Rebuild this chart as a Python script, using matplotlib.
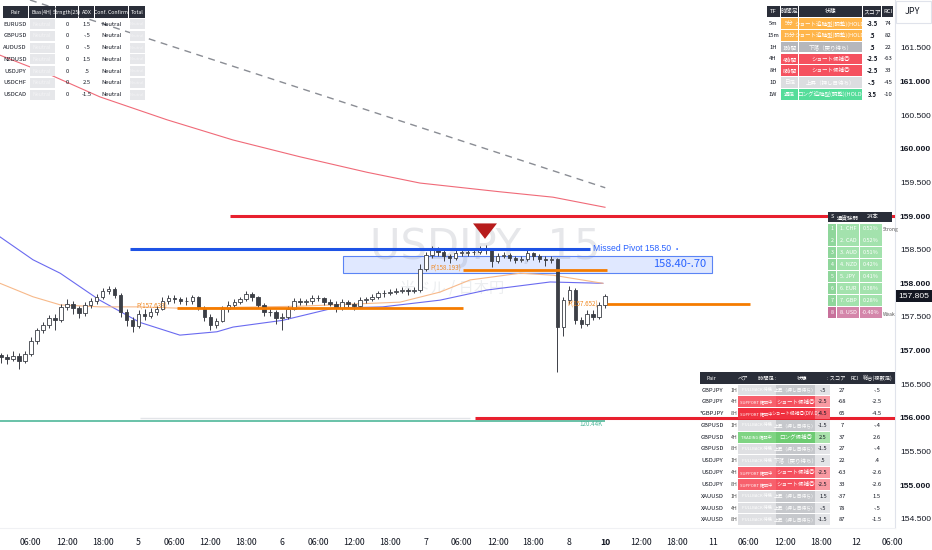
import numpy as np
import matplotlib
matplotlib.use("Agg")
import matplotlib.pyplot as plt
from matplotlib.patches import Rectangle, Polygon

plt.rcParams['font.family'] = ['Noto Sans CJK JP', 'DejaVu Sans']

# ---- price data (hourly candles) ----
first_open = 156.93
closes = [156.90, 156.88, 156.92, 156.85, 156.95, 157.15, 157.30, 157.38, 157.48, 157.45,
          157.65, 157.70, 157.64, 157.56, 157.68, 157.74, 157.80, 157.88, 157.92, 157.82,
          157.58, 157.45, 157.36, 157.55, 157.52, 157.58, 157.62, 157.74, 157.78, 157.76,
          157.74, 157.73, 157.79, 157.64, 157.50, 157.38, 157.44, 157.62, 157.68, 157.72,
          157.76, 157.84, 157.79, 157.68, 157.57, 157.58, 157.48, 157.50, 157.62, 157.74,
          157.72, 157.73, 157.78, 157.78, 157.72, 157.70, 157.63, 157.72, 157.69, 157.66,
          157.75, 157.76, 157.80, 157.85, 157.85, 157.87, 157.89, 157.90, 157.88, 157.90,
          158.22, 158.42, 158.50, 158.46, 158.40, 158.37, 158.45, 158.45, 158.46, 158.47,
          158.50, 158.50, 158.33, 158.40, 158.42, 158.38, 158.35, 158.36, 158.45, 158.40,
          158.36, 158.34, 158.36, 157.35, 157.75, 157.90, 157.45, 157.40, 157.55, 157.50,
          157.68, 157.805]
highs = [156.97, 156.95, 156.99, 156.96, 157.00, 157.20, 157.34, 157.42, 157.53, 157.55,
         157.69, 157.76, 157.73, 157.67, 157.72, 157.78, 157.84, 157.93, 157.96, 157.94,
         157.85, 157.62, 157.50, 157.60, 157.62, 157.63, 157.67, 157.80, 157.82, 157.82,
         157.80, 157.79, 157.83, 157.81, 157.67, 157.54, 157.49, 157.66, 157.73, 157.76,
         157.80, 157.88, 157.87, 157.81, 157.71, 157.64, 157.61, 157.56, 157.66, 157.78,
         157.78, 157.77, 157.82, 157.83, 157.80, 157.76, 157.73, 157.76, 157.75, 157.72,
         157.79, 157.80, 157.84, 157.89, 157.90, 157.91, 157.93, 157.95, 157.93, 157.95,
         158.28, 158.47, 158.56, 158.54, 158.49, 158.44, 158.49, 158.50, 158.51, 158.52,
         158.56, 158.57, 158.53, 158.45, 158.47, 158.45, 158.41, 158.41, 158.49, 158.47,
         158.43, 158.40, 158.41, 158.38, 157.80, 157.96, 157.93, 157.50, 157.60, 157.60,
         157.72, 157.84]
lows = [156.82, 156.80, 156.84, 156.72, 156.82, 156.92, 157.10, 157.26, 157.33, 157.30,
        157.42, 157.60, 157.55, 157.48, 157.52, 157.64, 157.70, 157.77, 157.84, 157.78,
        157.50, 157.36, 157.28, 157.33, 157.46, 157.48, 157.53, 157.60, 157.70, 157.71,
        157.69, 157.68, 157.70, 157.60, 157.44, 157.30, 157.34, 157.42, 157.58, 157.64,
        157.69, 157.73, 157.74, 157.64, 157.52, 157.52, 157.40, 157.30, 157.47, 157.60,
        157.68, 157.68, 157.70, 157.73, 157.68, 157.66, 157.58, 157.60, 157.65, 157.61,
        157.63, 157.71, 157.73, 157.77, 157.80, 157.82, 157.84, 157.85, 157.82, 157.85,
        157.87, 158.18, 158.38, 158.40, 158.33, 158.30, 158.34, 158.41, 158.41, 158.42,
        158.44, 158.44, 158.24, 158.30, 158.37, 158.33, 158.30, 158.31, 158.33, 158.35,
        158.31, 158.26, 158.30, 156.68, 157.22, 157.70, 157.40, 157.33, 157.36, 157.45,
        157.47, 157.64]

# moving averages / trend line knots (hour, price)
ma_blue_h = [0.84, 6.35, 10.9, 17.5, 24.2, 30.9, 37.1, 39.8, 48.1, 56.5, 64.8, 74.4, 82.2, 92.8, 101.6]
ma_blue_p = [158.69, 158.35, 158.15, 157.75, 157.42, 157.23, 157.28, 157.35, 157.45, 157.63, 157.65,
             157.75, 157.90, 158.02, 158.00]
ma_orange_h = [0.84, 6.35, 10.9, 17.5, 24.2, 30.9, 51.0, 67.7, 74.4, 79.4, 87.8, 93.3, 101.6]
ma_orange_p = [158.00, 157.80, 157.68, 157.65, 157.65, 157.63, 157.66, 157.72, 157.87, 158.05, 158.15,
               158.12, 158.00]
ma_red_h = [0.84, 9.19, 17.55, 28.75, 39.78, 50.98, 62.18, 71.03, 84.41, 93.26, 101.96]
ma_red_p = [161.39, 161.10, 160.77, 160.43, 160.13, 159.88, 159.65, 159.49, 159.36, 159.28, 159.13]
trend_h = [5.85, 102.0]
trend_p = [162.21, 159.42]

# time axis labels (every 6 hours)
time_labels = ["06:00", "12:00", "18:00", "5", "06:00", "12:00", "18:00", "6", "06:00", "12:00",
               "18:00", "7", "06:00", "12:00", "18:00", "8", "10", "12:00", "18:00", "11",
               "06:00", "12:00", "18:00", "12", "06:00"]

# top-left table
lt_header = ["Pair", "Bias(4H)", "Strngth(25)", "ADX", "Conf. Confirm", "Total"]
lt_pairs = ["EURUSD", "GBPUSD", "AUDUSD", "NZDUSD", "USDJPY", "USDCHF", "USDCAD"]
lt_strength = ["0", "0", "0", "0", "0", "0", "0"]
lt_adx = ["1.5", "-.5", "-.5", "1.5", ".5", "2.5", "-1.5"]
lt_confirm = ["Neutral", "Neutral", "Neutral", "Neutral", "Neutral", "Neutral", "Neutral"]

# top-right table
tr_header = ["TF", "時間足", "状態", "スコア", "RCI"]
tr_tf = ["5m", "15m", "1H", "4H", "8H", "1D", "1W"]
tr_jp = ["5分", "15分", "1時間", "4時間", "8時間", "日足", "週足"]
tr_state = ["ショート追随型(調整)(HOLD)", "ショート追随型(調整)(HOLD)", "下落（戻り待ち）",
            "ショート候補◎", "ショート候補◎", "上昇（押し目待ち）", "ロング追随型(調整)(HOLD)"]
tr_kind = ["orange", "orange", "gray", "red", "red", "light", "green"]
tr_score = ["-3.5", ".5", ".5", "-2.5", "-2.5", "-.5", "3.5"]
tr_rci = ["74", "82", "22", "-63", "33", "-45", "-10"]

# currency strength table
cs_ccy = ["CHF", "CAD", "AUD", "NZD", "JPY", "EUR", "GBP", "USD"]
cs_pct = ["0.52%", "0.52%", "0.51%", "0.42%", "0.41%", "0.38%", "0.28%", "-0.40%"]

# bottom-right table
br_header = ["Pair", "ペア", "時間足 :", "状態", ": スコア", "RCI", "総合(複数足)"]
br_pair = ["GBPJPY", "GBPJPY", "*GBPJPY", "GBPUSD", "GBPUSD", "GBPUSD",
           "USDJPY", "USDJPY", "USDJPY", "XAUUSD", "XAUUSD", "XAUUSD"]
br_tf = ["1H", "4H", "8H", "1H", "4H", "8H", "1H", "4H", "8H", "1H", "4H", "8H"]
br_state = ["上昇（押し目待ち）", "ショート候補◎", "ショート候補◎(DIV.D)", "上昇（押し目待ち）",
            "ロング候補◎", "上昇（押し目待ち）", "下落（戻り待ち）", "ショート候補◎", "ショート候補◎",
            "上昇（押し目待ち）", "上昇（押し目待ち）", "上昇（押し目待ち）"]
br_kind = ["gray", "red", "red2", "gray", "green", "gray", "gray", "red", "red", "gray", "gray", "gray"]
br_score = ["-.5", "-2.5", "-4.5", "-1.5", "2.5", "-1.5", ".5", "-2.5", "-2.5", "1.5", "-.5", "-1.5"]
br_rci = ["27", "-68", "65", "7", "37", "27", "22", "-63", "33", "-37", "78", "87"]
br_total = ["-.5", "-2.5", "-4.5", "-.4", "2.6", "-.4", ".4", "-2.6", "-2.6", "1.5", "-.5", "-1.5"]

# ---- figure ----
W, H = 932, 550
fig = plt.figure(figsize=(W / 100, H / 100), dpi=100)
fig.patch.set_facecolor('white')
ax = fig.add_axes([0, 22 / H, 895 / W, 528 / H])
ax.set_facecolor('none')
ax.set_xlim(0.84, 150.43)
ax.set_ylim(154.364, 162.21)

# watermark behind everything
fig.text(485 / W, 1 - 247 / H, "USDJPY, 15", fontsize=30, color='#e6e7ea', ha='center', va='center',
         zorder=-1, family='DejaVu Sans')
fig.text(452 / W, 1 - 288 / H, "米ドル / 日本円", fontsize=11, color='#eceef0', ha='center', va='center',
         zorder=-1)

# indicator lines
ax.plot(trend_h, trend_p, color='#8a8d94', lw=1, ls=(0, (5, 4)), zorder=2)
ax.plot(ma_red_h, ma_red_p, color='#f06a78', lw=0.8, zorder=2)
ax.plot(ma_blue_h, ma_blue_p, color='#6a6af0', lw=0.8, zorder=2)
ax.plot(ma_orange_h, ma_orange_p, color='#f7b98a', lw=0.8, zorder=2)

# levels
ax.hlines(159.0, 39.3, 151, color='#e8202e', lw=2.2, zorder=5)
ax.hlines(156.0, 80.2, 151, color='#e8202e', lw=2.2, zorder=5)
ax.hlines(158.51, 22.6, 99.4, color='#1e53e5', lw=2.2, zorder=5)
ax.add_patch(Rectangle((58.2, 158.15), 119.8 - 58.2, 0.26, fc='#2962ff', alpha=0.14, ec='none', zorder=1))
ax.add_patch(Rectangle((58.2, 158.15), 119.8 - 58.2, 0.26, fc='none', ec='#5b84f5', lw=0.8, zorder=1))
ax.hlines(158.20, 78.2, 102.3, color='#f57c00', lw=2, zorder=5)
ax.hlines(157.63, 30.4, 78.2, color='#f57c00', lw=2, zorder=5)
ax.hlines(157.69, 102.3, 126.2, color='#f57c00', lw=2, zorder=5)
ax.hlines(155.955, 0.84, 102.0, color='#4fb89a', lw=1.2, zorder=2)
ax.hlines(156.0, 24.2, 79.4, color='#e2e4e8', lw=1, zorder=1)

# candles
hours = np.arange(1, len(closes) + 1)
c = np.array(closes)
o = np.r_[first_open, c[:-1]]
up = c >= o
ax.vlines(hours, lows, highs, color='#3c3f46', lw=0.7, zorder=3)
body = np.maximum(np.abs(c - o), 0.008)
ax.bar(hours, body, bottom=np.minimum(o, c), width=0.6,
       color=np.where(up, 'white', '#3c3f46'), edgecolor='#3c3f46', lw=0.6, zorder=4)

# signal triangle
ax.add_patch(Polygon([[79.9, 158.89], [83.9, 158.89], [81.9, 158.66]], closed=True,
                     fc='#b71c1c', ec='none', zorder=6))

# level labels
ax.text(100.0, 158.51, "Missed Pivot 158.50", color='#2962ff', fontsize=6.2, va='center', zorder=6,
        family='Liberation Sans')
ax.text(113.8, 158.51, "•", color='#2962ff', fontsize=5, va='center', zorder=6)
ax.text(110.0, 158.28, "158.40-.70", color='#2962ff', fontsize=8, va='center', zorder=6)
ax.text(72.8, 158.22, "P(158.193)", color='#f08a24', fontsize=4.5, va='center', zorder=6)
ax.text(95.6, 157.69, "P(157.652)", color='#f08a24', fontsize=4.5, va='center', zorder=6)
ax.text(23.6, 157.66, "P(157.633)", color='#f08a24', fontsize=4.5, va='center', zorder=6)
ax.text(97.6, 155.91, "120.44K", color='#4fb89a', fontsize=4.5, va='center', zorder=6)

# axes styling
for s in ['left', 'top']:
    ax.spines[s].set_visible(False)
ax.spines['right'].set_color('#e0e3eb')
ax.spines['bottom'].set_color('#f0f1f4')
ax.set_xticks(np.arange(6, 151, 6))
ax.set_xticklabels(time_labels)
ax.tick_params(axis='x', length=0, pad=7, labelsize=6.3, colors='#131722')
for lbl in ax.get_xticklabels():
    if lbl.get_text() == "10":
        lbl.set_fontweight('bold')
yt = np.arange(154.5, 161.6, 0.5)
ax.yaxis.tick_right()
ax.set_yticks(yt)
ax.set_yticklabels([f"{v:.3f}" for v in yt])
ax.tick_params(axis='y', length=0, pad=3.5, labelsize=6.1, colors='#131722')
for v, lbl in zip(yt, ax.get_yticklabels()):
    lbl.set_family('Liberation Sans')
    if abs(v - round(v)) < 1e-6:
        lbl.set_fontweight('bold')

# ---- overlay (pixel coords) for tables & labels ----
ov = fig.add_axes([0, 0, 1, 1])
ov.set_xlim(0, W)
ov.set_ylim(H, 0)
ov.axis('off')
ov.set_zorder(5)

DARK = '#2a2e39'


def cell(x0, y0, x1, y1, fc, alpha=1.0):
    ov.add_patch(Rectangle((x0, y0), x1 - x0, y1 - y0, fc=fc, ec='none', alpha=alpha))


def txt(x, y, s, size=4.3, color='#131722', ha='center', **kw):
    ov.text(x, y, s, fontsize=size, color=color, ha=ha, va='center', **kw)


# JPY box and last price
ov.add_patch(Rectangle((896, 1), 35, 22, fc='white', ec='#e0e3eb', lw=0.8))
txt(912, 12, "JPY", size=6.5)
cell(896, 290, 932, 302, '#131722')
txt(914, 296, "157.805", size=6.1, color='white', family='Liberation Sans')

# top-left table
lt_cols = [(3, 28), (29, 55), (56, 78), (79, 94), (95, 128), (129, 145)]
for (x0, x1), hd in zip(lt_cols, lt_header):
    cell(x0, 6, x1, 18, DARK)
    txt((x0 + x1) / 2, 12, hd, size=3.8, color='white')
for i in range(len(lt_pairs)):
    yc = 24 + i * 11.8
    txt(15, yc, lt_pairs[i], size=4.2)
    cell(30, yc - 5, 55, yc + 5, '#e6e7ea')
    txt(42, yc, "Neutral", size=3.8, color='#f4f4f6')
    txt(67, yc, lt_strength[i], size=4.2)
    txt(87, yc, lt_adx[i], size=4.2)
    txt(112, yc, lt_confirm[i], size=4.2)
    cell(130, yc - 5, 145, yc + 5, '#e6e7ea')
    txt(137, yc, "Neutral", size=3.0, color='#f4f4f6')

# top-right table
kind_col = {'orange': '#ffb54a', 'gray': '#b5b7bc', 'red': '#f5515f', 'light': '#dcdde0',
            'green': '#55dd9a', 'red2': '#f0303f'}
tr_cols = [(767, 780), (781, 798), (799, 862), (863, 881), (882, 893)]
for (x0, x1), hd in zip(tr_cols, tr_header):
    cell(x0, 6, x1, 17, DARK)
    txt((x0 + x1) / 2, 11.5, hd, size=4.2, color='white')
for i in range(len(tr_tf)):
    yc = 23.5 + i * 11.8
    col = kind_col[tr_kind[i]]
    txt(773, yc, tr_tf[i], size=4.2)
    cell(781, yc - 5.3, 798, yc + 5.3, col)
    cell(799, yc - 5.3, 862, yc + 5.3, col)
    txt(789.5, yc, tr_jp[i], size=4.0, color='white')
    txt(830.5, yc, tr_state[i], size=4.0, color='white')
    txt(872, yc, tr_score[i], size=4.3, weight='bold')
    txt(888, yc, tr_rci[i], size=4.3)

# currency strength table
cell(828, 212, 892, 222, DARK)
txt(831, 217, "S", size=4.0, color='white', ha='left')
txt(848, 217, "通貨強弱", size=4.0, color='white')
txt(873, 217, "24本", size=4.0, color='white')
for i in range(len(cs_ccy)):
    yc = 229 + i * 11.9
    base = '#a3e2ad' if i < 7 else '#d486aa'
    dark = '#8fd69b' if i < 7 else '#c7709a'
    cell(828, yc - 5.5, 836, yc + 5.5, dark)
    cell(837, yc - 5.5, 859, yc + 5.5, base)
    cell(860, yc - 5.5, 882, yc + 5.5, base)
    txt(832, yc, str(i + 1), size=3.8, color='white')
    txt(848, yc, f"{i + 1}. {cs_ccy[i]}", size=4.0, color='white')
    txt(871, yc, cs_pct[i], size=4.0, color='white')
txt(883, 229, "Strong", size=3.6, color='#555', ha='left')
txt(883, 314, "Weak", size=3.6, color='#555', ha='left')

# bottom-right table
cell(700, 372, 895, 384, DARK)
for x, hd in zip([711, 743, 767, 802, 836, 855, 878], br_header):
    txt(x, 378, hd, size=3.8, color='white')
for i in range(len(br_pair)):
    yc = 390 + i * 11.8
    k = br_kind[i]
    if k == 'gray':
        c1, c2, c3 = '#dfe0e3', '#c6c8cc', '#e3e4e7'
    elif k == 'green':
        c1, c2, c3 = '#7fd483', '#6dcb72', '#a9e3ab'
    elif k == 'red2':
        c1, c2, c3 = '#f0303f', '#f0303f', '#f46470'
    else:
        c1, c2, c3 = '#f7606c', '#f5515f', '#f89aa2'
    cell(738, yc - 5.4, 776, yc + 5.4, c1)
    cell(776, yc - 5.4, 815, yc + 5.4, c2)
    cell(815, yc - 5.4, 830, yc + 5.4, c3)
    txt(712, yc, br_pair[i], size=4.2)
    txt(734, yc, br_tf[i], size=3.8, color='#444')
    tag = "SUPPORT 確認中" if k in ('red', 'red2') else ("TRADING 確認中" if k == 'green' else "PULLBACK 待機")
    txt(756.5, yc, tag, size=3.0, color='white')
    txt(795.5, yc, br_state[i], size=3.4 if len(br_state[i]) > 8 else 4.0, color='white')
    txt(823, yc, br_score[i], size=4.0)
    txt(842, yc, br_rci[i], size=4.2)
    txt(877, yc, br_total[i], size=4.2)

fig.savefig("out.png", dpi=100)
